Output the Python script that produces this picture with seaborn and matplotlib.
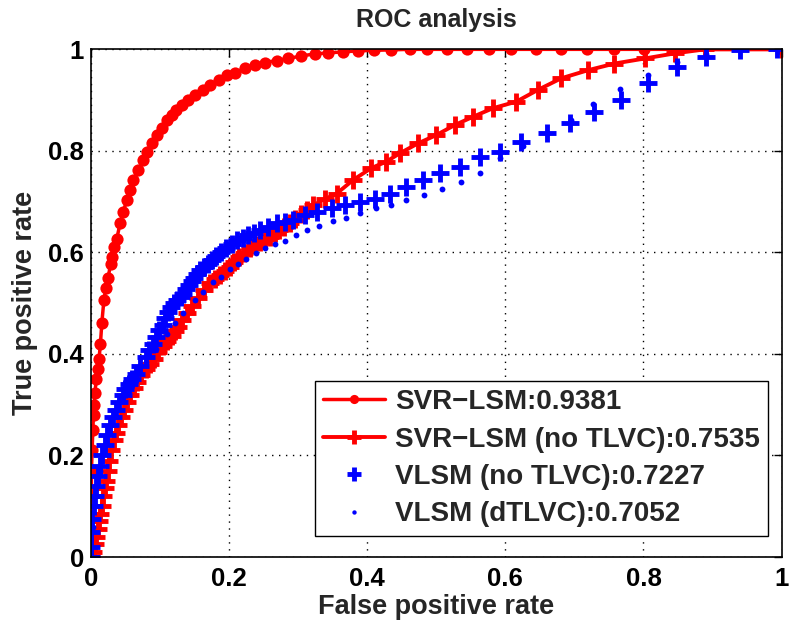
import matplotlib
matplotlib.use('Agg')
import matplotlib.pyplot as plt
import seaborn as sns

# SVR-LSM (AUC 0.9381), circles with line
svr_fpr = [0, 0, 0.001, 0.001, 0.002, 0.003, 0.004, 0.005, 0.006, 0.008,
           0.010, 0.012, 0.014, 0.016, 0.019, 0.022, 0.025, 0.029, 0.031, 0.034,
           0.0376, 0.0424, 0.0472, 0.052, 0.0569, 0.0617, 0.0689, 0.0761, 0.081, 0.0882, 0.0955,
           0.103, 0.110, 0.117, 0.124, 0.132, 0.141, 0.151, 0.163, 0.173, 0.185, 0.197, 0.209,
           0.223, 0.238, 0.252, 0.269, 0.286, 0.305, 0.324, 0.344, 0.365, 0.387, 0.410, 0.435,
           0.462, 0.486, 0.515, 0.544, 0.577, 0.608, 0.645, 0.680, 0.718, 0.758, 0.801, 0.843, 1.0]
svr_tpr = [0, 0.08, 0.13, 0.17, 0.21, 0.25, 0.28, 0.30, 0.323, 0.35,
           0.37, 0.39, 0.42, 0.46, 0.506, 0.53, 0.55, 0.578, 0.591, 0.61,
           0.626, 0.657, 0.680, 0.703, 0.723, 0.743, 0.762, 0.782, 0.798, 0.815, 0.831,
           0.846, 0.861, 0.871, 0.880, 0.890, 0.900, 0.910, 0.920, 0.930, 0.940, 0.949, 0.954,
           0.963, 0.969, 0.974, 0.978, 0.982, 0.987, 0.991, 0.993, 0.995, 0.997, 0.998, 0.999,
           1.0, 1.0, 1.0, 1.0, 1.0, 1.0, 1.0, 1.0, 1.0, 1.0, 1.0, 1.0, 1.0]

# SVR-LSM without TLVC (AUC 0.7535), plus with line
svr_nt_fpr = [0, 0.003, 0.006, 0.008, 0.010, 0.012, 0.014, 0.016, 0.018, 0.020, 0.022, 0.025,
              0.027, 0.030, 0.033, 0.036, 0.040, 0.044, 0.048, 0.052, 0.057, 0.062, 0.067,
              0.073, 0.080, 0.086, 0.092, 0.098, 0.105, 0.111, 0.117, 0.122, 0.126, 0.132,
              0.139, 0.147, 0.155, 0.164, 0.173, 0.180, 0.187, 0.194, 0.2015, 0.208, 0.215,
              0.222, 0.230, 0.238, 0.245, 0.252, 0.259, 0.266, 0.273, 0.280, 0.288, 0.296,
              0.305, 0.313, 0.322, 0.339, 0.356, 0.380, 0.406,
              0.428, 0.447, 0.474, 0.500, 0.527, 0.553, 0.582, 0.616, 0.647, 0.681, 0.720,
              0.758, 0.802, 0.845, 0.889, 1.0]
svr_nt_tpr = [0, 0.01, 0.025, 0.04, 0.055, 0.07, 0.085, 0.10, 0.12, 0.135, 0.15, 0.17,
              0.19, 0.21, 0.23, 0.245, 0.26, 0.275, 0.29, 0.305, 0.32, 0.333, 0.345,
              0.358, 0.37, 0.38, 0.39, 0.403, 0.415, 0.425, 0.435, 0.445, 0.454, 0.467,
              0.48, 0.495, 0.51, 0.525, 0.539, 0.548, 0.556, 0.564, 0.572, 0.581, 0.59,
              0.599, 0.608, 0.614, 0.62, 0.626, 0.631, 0.638, 0.644, 0.65, 0.657, 0.666,
              0.675, 0.684, 0.693, 0.705, 0.716, 0.743, 0.766,
              0.779, 0.795, 0.815, 0.831, 0.851, 0.867, 0.884, 0.897, 0.920, 0.943, 0.959,
              0.972, 0.982, 0.992, 1.0, 1.0]

# VLSM without TLVC (AUC 0.7227), plus markers only
vlsm_nt_fpr = [0, 0, 0.001, 0.002, 0.004, 0.006, 0.008, 0.010, 0.013, 0.016, 0.020, 0.024,
               0.028, 0.032, 0.037, 0.041, 0.046, 0.050, 0.055, 0.060, 0.065, 0.072, 0.080,
               0.085, 0.090, 0.095, 0.099, 0.104, 0.108, 0.112, 0.116, 0.120, 0.125, 0.130,
               0.134, 0.138, 0.142, 0.146, 0.150, 0.154, 0.158, 0.164, 0.170, 0.176, 0.182,
               0.189, 0.196, 0.204, 0.211, 0.220, 0.228, 0.237, 0.245, 0.257, 0.269, 0.281,
               0.293, 0.310, 0.327, 0.349,
               0.368, 0.390, 0.411, 0.433, 0.457, 0.481, 0.505, 0.534, 0.563, 0.592, 0.623,
               0.660, 0.693, 0.729, 0.768, 0.807, 0.848, 0.891, 0.939, 0.993]
vlsm_nt_tpr = [0, 0.02, 0.05, 0.075, 0.10, 0.12, 0.14, 0.16, 0.18, 0.20, 0.22, 0.24,
               0.26, 0.275, 0.29, 0.305, 0.32, 0.33, 0.34, 0.35, 0.36, 0.377, 0.394,
               0.407, 0.42, 0.434, 0.447, 0.458, 0.47, 0.482, 0.493, 0.5, 0.507, 0.513,
               0.519, 0.527, 0.535, 0.543, 0.55, 0.558, 0.565, 0.572, 0.578, 0.585, 0.592,
               0.60, 0.608, 0.616, 0.624, 0.629, 0.634, 0.639, 0.644, 0.65, 0.657, 0.66,
               0.664, 0.674, 0.68, 0.687,
               0.693, 0.70, 0.706, 0.716, 0.729, 0.743, 0.756, 0.769, 0.788, 0.798, 0.818,
               0.835, 0.854, 0.877, 0.90, 0.933, 0.966, 0.985, 0.998, 1.0]

# VLSM dTLVC (AUC 0.7052), small dots
vlsm_d_fpr = [0, 0.003, 0.008, 0.014, 0.022, 0.030, 0.040, 0.052, 0.066, 0.080, 0.095, 0.110,
              0.122, 0.134, 0.151, 0.163, 0.177, 0.189, 0.2015, 0.213, 0.224, 0.239, 0.252,
              0.267, 0.281, 0.297, 0.313, 0.331, 0.350, 0.369, 0.390, 0.413, 0.434, 0.457,
              0.483, 0.509, 0.536, 0.564, 0.593, 0.625, 0.660, 0.695, 0.727, 0.766, 0.806,
              0.848, 0.891, 0.939, 0.993]
vlsm_d_tpr = [0, 0.06, 0.12, 0.17, 0.22, 0.26, 0.295, 0.33, 0.36, 0.385, 0.41, 0.44,
              0.46, 0.48, 0.506, 0.523, 0.542, 0.552, 0.567, 0.578, 0.587, 0.599, 0.608,
              0.617, 0.622, 0.634, 0.645, 0.652, 0.661, 0.668, 0.677, 0.687, 0.693, 0.703,
              0.713, 0.724, 0.738, 0.756, 0.785, 0.81, 0.835, 0.86, 0.893, 0.921, 0.949,
              0.975, 0.99, 1.0, 1.0]

labels = ['SVR\u2212LSM:0.9381', 'SVR\u2212LSM (no TLVC):0.7535',
          'VLSM (no TLVC):0.7227', 'VLSM (dTLVC):0.7052']
ticks = [0, 0.2, 0.4, 0.6, 0.8, 1]
tick_labels = ['0', '0.2', '0.4', '0.6', '0.8', '1']

RED = '#ff0000'
BLUE = '#0000ff'

sns.set_style('white')
plt.rcParams['font.family'] = ['Liberation Sans', 'DejaVu Sans']
plt.rcParams['font.weight'] = 'bold'

fig = plt.figure(figsize=(7.96, 6.35), dpi=100)
ax = fig.add_axes([0.114, 0.1228, 0.868, 0.7995])

sns.lineplot(x=svr_fpr, y=svr_tpr, ax=ax, estimator=None, sort=False, color=RED,
             linewidth=2.5, marker='o', markersize=8.8, markeredgewidth=0,
             markerfacecolor=RED, label=labels[0])
sns.lineplot(x=svr_nt_fpr, y=svr_nt_tpr, ax=ax, estimator=None, sort=False, color=RED,
             linewidth=2.8, marker='+', markersize=13, markeredgewidth=3.5,
             markeredgecolor=RED, label=labels[1])
sns.lineplot(x=vlsm_nt_fpr, y=vlsm_nt_tpr, ax=ax, estimator=None, sort=False, color=BLUE,
             linestyle='none', marker='+', markersize=13, markeredgewidth=3.5,
             markeredgecolor=BLUE, label=labels[2])
sns.lineplot(x=vlsm_d_fpr, y=vlsm_d_tpr, ax=ax, estimator=None, sort=False, color=BLUE,
             linestyle='none', marker='o', markersize=4.2, markeredgewidth=0,
             markerfacecolor=BLUE, label=labels[3])

ax.set_xlim(0, 1)
ax.set_ylim(0, 1)
ax.set_xticks(ticks)
ax.set_xticklabels(tick_labels)
ax.set_yticks(ticks)
ax.set_yticklabels(tick_labels)
ax.tick_params(direction='in', length=6, width=1, top=True, right=True,
               labelsize=18.5, colors='black')
ax.tick_params(axis='x', pad=7)
ax.tick_params(axis='y', pad=5)
for t in ax.get_xticklabels() + ax.get_yticklabels():
    t.set_fontweight('bold')
ax.grid(True, color='black', linestyle=(0, (1, 4)), linewidth=1)
for s in ax.spines.values():
    s.set_color('black')
    s.set_linewidth(1.2)
    s.set_visible(True)

ax.set_title('ROC analysis', fontsize=18, fontweight='bold', pad=16)
ax.set_xlabel('False positive rate', fontsize=19.5, fontweight='bold', labelpad=2)
ax.set_ylabel('True positive rate', fontsize=19.5, fontweight='bold', labelpad=7)

leg = ax.legend(loc='lower right', bbox_to_anchor=(0.980, 0.042), fontsize=20,
                frameon=True, fancybox=False, framealpha=1, edgecolor='black',
                handlelength=2.23, borderpad=0.3, labelspacing=0.41, handletextpad=0.35,
                markerscale=0.75, borderaxespad=0)
leg.get_frame().set_linewidth(1)

fig.savefig('out.png', dpi=100)
